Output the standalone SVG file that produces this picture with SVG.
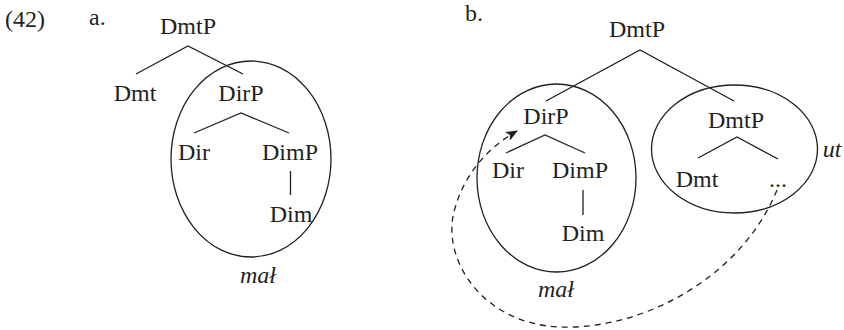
<svg xmlns="http://www.w3.org/2000/svg" width="844" height="330" viewBox="0 0 844 330">
<defs>
<style>
text{font-family:"Liberation Serif","Times New Roman",serif;font-size:24px;fill:#231f20;text-anchor:middle}
.it{font-style:italic}
.ln{stroke:#231f20;stroke-width:1.3;fill:none}
.dash{stroke:#231f20;stroke-width:1.3;fill:none;stroke-dasharray:6 5}
</style>
<marker id="ah" viewBox="0 0 12 10" refX="11" refY="5" markerWidth="12" markerHeight="10" markerUnits="userSpaceOnUse" orient="auto">
<path d="M0 0 L12 5 L0 10 L3 5 Z" fill="#231f20"/>
</marker>
</defs>
<rect width="844" height="330" fill="#fff"/>
<text x="5" y="27" style="text-anchor:start">(42)</text>
<text x="89" y="25" style="text-anchor:start">a.</text>
<text x="465" y="21" style="text-anchor:start">b.</text>
<g id="connectors">
<path class="ln" d="M136 74 L188 46 L243 74"/>
<path class="ln" d="M194 133 L241 113 L289 133"/>
<path class="ln" d="M290.5 171 L290.5 195"/>
<path class="ln" d="M546 101 L640 50 L734 101"/>
<path class="ln" d="M506 153 L545 135 L585 153"/>
<path class="ln" d="M583 190 L583 215"/>
<path class="ln" d="M698 158 L737 137 L778 159"/>
<path class="dash" d="M777 190 C740 280 640 330 560 327 C480 324 438 255 456 205 C466 172 490 146 517 131" marker-end="url(#ah)"/>
</g>
<g id="a-ellipse"><ellipse class="ln" cx="251" cy="159" rx="80" ry="98"/></g>
<g id="a-DmtP"><text x="188" y="34">DmtP</text></g>
<g id="a-Dmt"><text x="135" y="101">Dmt</text></g>
<g id="a-DirP"><text x="241" y="101">DirP</text></g>
<g id="a-Dir"><text x="194" y="160">Dir</text></g>
<g id="a-DimP"><text x="290" y="160">DimP</text></g>
<g id="a-Dim"><text x="291" y="222">Dim</text></g>
<g id="a-mal"><text class="it" x="258" y="283">mał</text></g>
<g id="b-ellipse1"><ellipse class="ln" cx="556.5" cy="178" rx="79.5" ry="94"/></g>
<g id="b-ellipse2"><ellipse class="ln" cx="734.5" cy="149" rx="83" ry="64"/></g>
<g id="b-DmtP"><text x="637" y="37">DmtP</text></g>
<g id="b-DirP"><text x="546" y="124">DirP</text></g>
<g id="b-Dir"><text x="508" y="178">Dir</text></g>
<g id="b-DimP"><text x="580" y="178">DimP</text></g>
<g id="b-Dim"><text x="583" y="241">Dim</text></g>
<g id="b-mal"><text class="it" x="556" y="297">mał</text></g>
<g id="b-DmtP2"><text x="736" y="128">DmtP</text></g>
<g id="b-Dmt"><text x="697" y="187">Dmt</text></g>
<g id="b-dots"><text x="778" y="187">...</text></g>
<g id="b-ut"><text class="it" x="832" y="157">ut</text></g>
</svg>
